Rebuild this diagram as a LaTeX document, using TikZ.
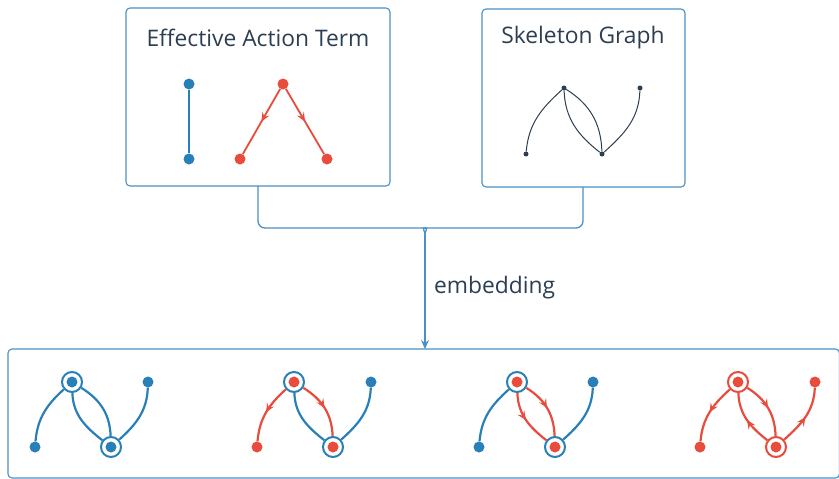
\documentclass[tikz,border=0pt]{standalone}
\usepackage{fontspec}
\setmainfont{Open Sans}
\usetikzlibrary{arrows.meta,decorations.markings}

\definecolor{frame}{HTML}{4A90C6}
\definecolor{gblue}{HTML}{2980B9}
\definecolor{gred}{HTML}{E74C3C}
\definecolor{ink}{HTML}{2C3E50}

\tikzset{
  panel/.style={draw=frame, line width=1.1pt, rounded corners=4pt},
  title/.style={text=ink, font=\fontsize{22.8}{27}\selectfont, inner sep=0pt},
  conn/.style={draw=frame, line width=1.3pt},
  dotb/.style={circle, fill=gblue, inner sep=0pt, minimum size=11pt},
  dotr/.style={circle, fill=gred, inner sep=0pt, minimum size=11pt},
  dotk/.style={circle, fill=ink, inner sep=0pt, minimum size=5pt},
  ringb/.style={circle, draw=gblue, fill=white, line width=2pt, inner sep=0pt, minimum size=20pt},
  ringr/.style={circle, draw=gred, fill=white, line width=2pt, inner sep=0pt, minimum size=20pt},
  eb/.style={draw=gblue, line width=2.2pt},
  er/.style={draw=gred, line width=2.2pt},
  ek/.style={draw=ink, line width=1pt},
  mid/.style={postaction={decorate}, decoration={markings,
    mark=at position 0.5 with {\arrow{Stealth[length=9pt,width=8pt,inset=3.5pt]}}}},
}

\begin{document}
\begin{tikzpicture}[x=1pt,y=-1pt]
\useasboundingbox (0,0) rectangle (839,479);
\clip (0,0) rectangle (839,479);

% panels
\path[panel] (126,8) rectangle (390,186);
\coordinate (p1s) at (258,186);
\path[panel] (482,9) rectangle (685,187);
\coordinate (p2s) at (583,187);
\path[panel] (8,349) rectangle (839.5,478);
\coordinate (p3n) at (425,349);

\node[title] (t1) at (258,38) {Effective Action Term};
\node[title] (t2) at (583,38) {Skeleton Graph};

% effective action term: propagator and vertex
\node[dotb] (a1) at (189,84) {};
\node[dotb] (a2) at (189,159) {};
\draw[eb] (a1) -- (a2);
\node[dotr] (v0) at (283,84) {};
\node[dotr] (v1) at (240,159) {};
\node[dotr] (v2) at (327,159) {};
\draw[er, line width=1.8pt, mid] (v0) -- (v1);
\draw[er, line width=1.8pt, mid] (v0) -- (v2);

% skeleton graph
\node[dotk] (sT) at (564,88) {};
\node[dotk] (sL) at (526,154) {};
\node[dotk] (sB) at (602,154) {};
\node[dotk] (sR) at (640,88) {};
\draw[ek] (sL) to[out=85,in=222] (sT);
\draw[ek] (sT) to[out=-88,in=142] (sB);
\draw[ek] (sT) to[out=-32,in=92] (sB);
\draw[ek] (sB) to[out=42,in=-92] (sR);

% embedding connector
\coordinate (jn) at (425,235);
\draw[conn] (p1s) [rounded corners=7pt] |- (418,228) [sharp corners] to[out=0,in=90] (jn);
\draw[conn] (p2s) [rounded corners=7pt] |- (432,228) [sharp corners] to[out=180,in=90] (jn);
\draw[conn, -{Stealth[length=9pt,width=8pt,inset=3pt]}] (jn) -- (p3n);
\node[title, anchor=west] (lab) at (434,288) {embedding};

% embedded graphs
% graph 1
\node[ringb] (g1T) at (72,382) {};
\node[ringb] (g1B) at (111,447) {};
\node[dotb] (g1L) at (35,447) {};
\node[dotb] (g1R) at (148,382) {};
\draw[eb] (g1L) to[out=85,in=222] (g1T);
\draw[eb] (g1T) to[out=-88,in=142] (g1B);
\draw[eb] (g1T) to[out=-32,in=92] (g1B);
\draw[eb] (g1B) to[out=42,in=-92] (g1R);
\node[dotb] at (g1T) {};
\node[dotb] at (g1B) {};

% graph 2
\node[ringb] (g2T) at (294,382) {};
\node[ringb] (g2B) at (333,447) {};
\node[dotr] (g2L) at (257,447) {};
\node[dotb] (g2R) at (371,382) {};
\draw[er, mid] (g2T) to[out=222,in=85] (g2L);
\draw[eb] (g2T) to[out=-88,in=142] (g2B);
\draw[er, mid] (g2T) to[out=-32,in=92] (g2B);
\draw[eb] (g2B) to[out=42,in=-92] (g2R);
\node[dotr] at (g2T) {};
\node[dotr] at (g2B) {};

% graph 3
\node[ringb] (g3T) at (517,382) {};
\node[ringb] (g3B) at (555,447) {};
\node[dotb] (g3L) at (479,447) {};
\node[dotb] (g3R) at (593,382) {};
\draw[eb] (g3L) to[out=85,in=222] (g3T);
\draw[er, mid] (g3T) to[out=-88,in=142] (g3B);
\draw[er, mid] (g3T) to[out=-32,in=92] (g3B);
\draw[eb] (g3B) to[out=42,in=-92] (g3R);
\node[dotr] at (g3T) {};
\node[dotr] at (g3B) {};

% graph 4
\node[ringr] (g4T) at (738,382) {};
\node[ringr] (g4B) at (776,447) {};
\node[dotr] (g4L) at (700,447) {};
\node[dotr] (g4R) at (815,382) {};
\draw[er, mid] (g4T) to[out=222,in=85] (g4L);
\draw[er, mid] (g4B) to[out=142,in=-88] (g4T);
\draw[er, mid] (g4T) to[out=-32,in=92] (g4B);
\draw[er, mid] (g4B) to[out=42,in=-92] (g4R);
\node[dotr] at (g4T) {};
\node[dotr] at (g4B) {};
\end{tikzpicture}
\end{document}
